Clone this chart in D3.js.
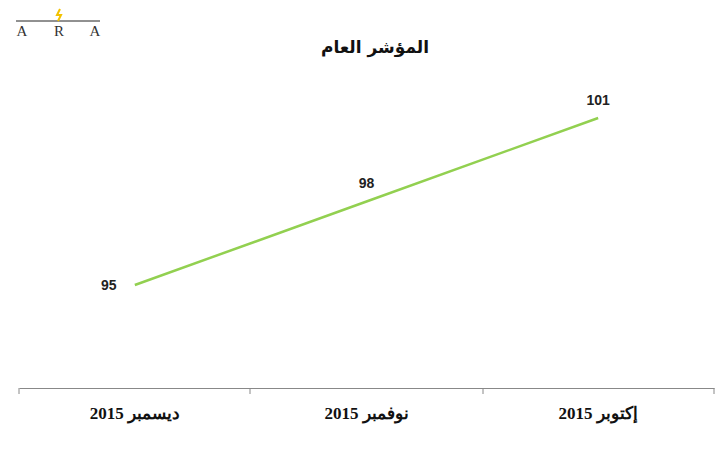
<!DOCTYPE html>
<html><head><meta charset="utf-8">
<script src="https://cdn.jsdelivr.net/npm/d3@7/dist/d3.min.js"></script>
<style>body{margin:0;background:#fff}</style></head>
<body><svg id="c" width="723" height="450"></svg>
<script>
const categories = ["ديسمبر 2015","نوفمبر 2015","إكتوبر 2015"];
const values = [95, 98, 101];
const title = "المؤشر العام";

const svg = d3.select("#c");
const x = d3.scaleBand().domain(categories).range([19,714]);
const y = d3.scaleLinear().domain([91.3,101]).range([388,118]);

const logo = svg.append("g");
logo.append("line").attr("x1",16).attr("x2",100).attr("y1",21).attr("y2",21).attr("stroke","#222").attr("stroke-width",1);
logo.append("path").attr("d","M60,9 L57,15 L61,15 L58,21").attr("fill","none").attr("stroke","#f2c200").attr("stroke-width",2);
["A","R","A"].forEach((t,i)=>logo.append("text").attr("x",[22,59,95][i]).attr("y",36).attr("text-anchor","middle")
  .attr("font-family","Liberation Serif").attr("font-size",15).attr("fill","#333").text(t));

svg.append("text").attr("x",375).attr("y",53).attr("text-anchor","middle")
  .attr("font-family","DejaVu Sans").attr("font-weight","bold").attr("font-size",17).attr("fill","#111").text(title);

const ax = svg.append("g").attr("transform","translate(0,388)")
  .call(d3.axisBottom(x).tickSize(0).tickFormat(""));
ax.select(".domain").attr("stroke","#888");
[19,250,483,714].forEach(t=>ax.append("line").attr("x1",t).attr("x2",t).attr("y1",0).attr("y2",6).attr("stroke","#888"));
svg.selectAll(".xl").data(categories).join("text").attr("class","xl")
  .attr("x",d=>x(d)+x.bandwidth()/2).attr("y",419).attr("text-anchor","middle").attr("direction","rtl")
  .attr("font-family","Liberation Serif").attr("font-weight","bold").attr("font-size",17).attr("fill","#111").text(d=>d);

const pts = categories.map((c,i)=>({c,v:values[i]}));
svg.append("path").datum(pts).attr("fill","none").attr("stroke","#92d050").attr("stroke-width",2.5)
  .attr("d",d3.line().x(d=>x(d.c)+x.bandwidth()/2).y(d=>y(d.v)));
const off=[[-26,5],[0,-14],[0,-13]];
svg.selectAll(".vl").data(pts).join("text").attr("class","vl")
  .attr("x",(d,i)=>x(d.c)+x.bandwidth()/2+off[i][0]).attr("y",(d,i)=>y(d.v)+off[i][1])
  .attr("text-anchor","middle").attr("font-family","Liberation Sans").attr("font-weight","bold").attr("font-size",14).attr("fill","#222").text(d=>d.v);
</script></body></html>
